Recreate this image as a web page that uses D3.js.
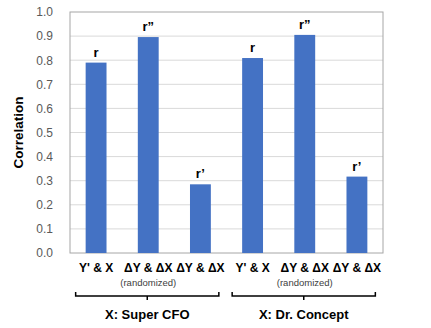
<!DOCTYPE html>
<html><head><meta charset="utf-8">
<script src="https://cdn.jsdelivr.net/npm/d3@7"></script>
<style>body{margin:0;background:#fff}svg{display:block;font-family:"Liberation Sans",Arial,sans-serif}</style>
</head><body>
<script>
const categories = ["Y' & X","ΔY & ΔX (rand)","ΔY & ΔX","Y' & X 2","ΔY & ΔX (rand) 2","ΔY & ΔX 2"];
const tickNames = ["Y' & X","ΔY & ΔX","ΔY & ΔX","Y' & X","ΔY & ΔX","ΔY & ΔX"];
const subNames = ["","(randomized)","","","(randomized)",""];
const values = [0.79, 0.896, 0.285, 0.809, 0.905, 0.317];
const barLabels = ["r","r\u201D","r\u2019","r","r\u201D","r\u2019"];
const groups = [{name:"X: Super CFO", from:0, to:2},{name:"X: Dr. Concept", from:3, to:5}];
const yTicks = [0,0.1,0.2,0.3,0.4,0.5,0.6,0.7,0.8,0.9,1.0];

const W=431,H=328;
const m={left:70,top:12,right:431-383,bottom:328-253};
const svg=d3.select("body").append("svg").attr("width",W).attr("height",H);
const x=d3.scaleBand().domain(categories).range([m.left,W-m.right]).paddingInner(0.6).paddingOuter(0.3);
const y=d3.scaleLinear().domain([0,1]).range([H-m.bottom,m.top]);

// gridlines
svg.append("g").selectAll("line").data(yTicks.slice(1,-1)).join("line")
 .attr("x1",m.left).attr("x2",W-m.right).attr("y1",d=>y(d)).attr("y2",d=>y(d))
 .attr("stroke","#d9d9d9").attr("stroke-width",1);
// frame
svg.append("rect").attr("x",m.left).attr("y",m.top).attr("width",W-m.right-m.left).attr("height",H-m.bottom-m.top)
 .attr("fill","none").attr("stroke","#a6a6a6").attr("stroke-width",1);

// y axis
const ya=svg.append("g").attr("transform",`translate(${m.left},0)`)
 .call(d3.axisLeft(y).tickValues(yTicks).tickFormat(d3.format(".1f")).tickSize(0).tickPadding(17));
ya.select(".domain").remove();
ya.selectAll("text").attr("fill","#595959").style("font-size","12px").style("font-family","Liberation Sans, Arial, sans-serif");

svg.append("text").attr("transform",`translate(23,${(m.top+H-m.bottom)/2}) rotate(-90)`)
 .attr("text-anchor","middle").attr("font-weight","bold").attr("font-size","13.5px").attr("fill","#000").text("Correlation");

// bars
svg.append("g").selectAll("rect").data(values).join("rect")
 .attr("x",(d,i)=>x(categories[i])).attr("width",x.bandwidth())
 .attr("y",d=>y(d)).attr("height",d=>y(0)-y(d)).attr("fill","#4472c4");

// bar labels
svg.append("g").selectAll("text").data(values).join("text")
 .attr("x",(d,i)=>x(categories[i])+x.bandwidth()/2).attr("y",d=>y(d)-6)
 .attr("text-anchor","middle").attr("font-weight","bold").attr("font-size","13px").text((d,i)=>barLabels[i]);

// x axis labels
const xa=svg.append("g").attr("transform",`translate(0,${H-m.bottom})`)
 .call(d3.axisBottom(x).tickSize(0).tickPadding(10).tickFormat((d,i)=>tickNames[i]));
xa.select(".domain").remove();
xa.selectAll("text").attr("fill","#000").style("font-size","12px").style("font-weight","bold").style("font-family","Liberation Sans, Arial, sans-serif");

svg.append("g").selectAll("text").data(subNames).join("text")
 .attr("x",(d,i)=>x(categories[i])+x.bandwidth()/2).attr("y",286)
 .attr("text-anchor","middle").attr("font-size","9.5px").attr("fill","#404040").text(d=>d);

// brackets
const by=296;
groups.forEach(g=>{
  const x0=x(categories[g.from])-10, x1=x(categories[g.to])+x.bandwidth()+8;
  const cx=(x0+x1)/2;
  svg.append("path").attr("d",`M${x0},${by-4}V${by}H${x1}V${by-4}M${cx},${by}V${by+4}`)
   .attr("fill","none").attr("stroke","#000").attr("stroke-width",1.5);
  svg.append("text").attr("x",cx).attr("y",319).attr("text-anchor","middle")
   .attr("font-weight","bold").attr("font-size","13px").text(g.name);
});
</script>
</body></html>
